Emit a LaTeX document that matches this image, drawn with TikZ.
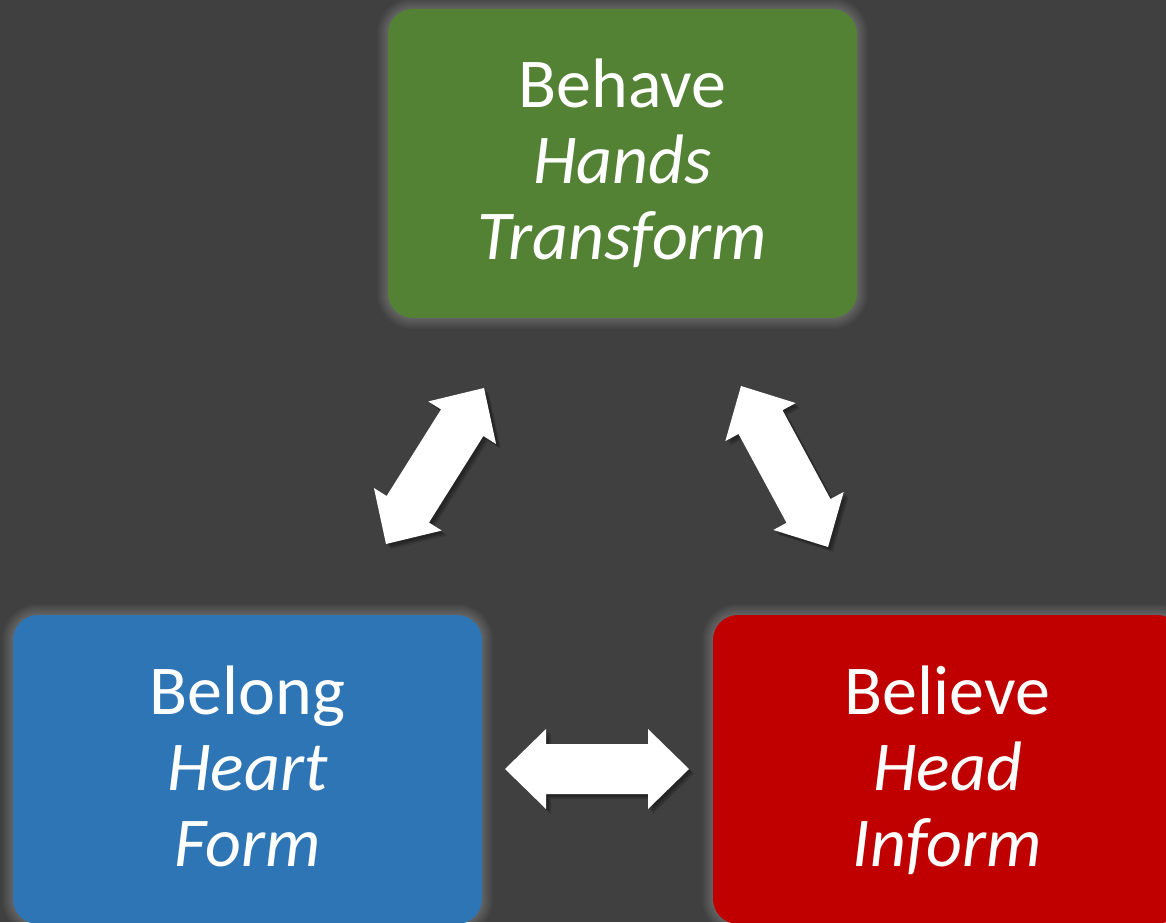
\documentclass[tikz,border=0pt]{standalone}
\usepackage{fontspec}
\setmainfont{Carlito}
\usetikzlibrary{calc,backgrounds}
\definecolor{bg}{HTML}{404040}
\definecolor{boxgreen}{HTML}{548235}
\definecolor{boxblue}{HTML}{2E75B6}
\definecolor{boxred}{HTML}{C00000}
\newcommand\lnstrut{\rule[-16pt]{0pt}{73pt}}
\newcommand\boxline[1]{\lnstrut#1}
\newcommand\arrowpath[2]{(#1)
  -- ($(#1)!41pt!(#2)!40pt!90:(#2)$)
  -- ($(#1)!41pt!(#2)!25pt!90:(#2)$)
  -- ($(#2)!41pt!(#1)!25pt!-90:(#1)$)
  -- ($(#2)!41pt!(#1)!40pt!-90:(#1)$)
  -- (#2)
  -- ($(#2)!41pt!(#1)!40pt!90:(#1)$)
  -- ($(#2)!41pt!(#1)!25pt!90:(#1)$)
  -- ($(#1)!41pt!(#2)!25pt!-90:(#2)$)
  -- ($(#1)!41pt!(#2)!40pt!-90:(#2)$)
  -- cycle}
\newcommand\dblarrow[2]{%
  \foreach \s in {2,3,4,5}{%
    \fill[black, opacity=0.12, transform canvas={xshift=\s pt, yshift=-\s pt}] \arrowpath{#1}{#2};}
  \fill[arrowfill] \arrowpath{#1}{#2};}
\newcommand\glow[1]{%
  \foreach \i in {1,...,11}{%
    \pgfmathsetmacro\rr{25+\i}
    \fill[white, opacity=0.02, rounded corners=\rr pt]
      ($(#1.south west)+(-\i,-\i)$) rectangle ($(#1.north east)+(\i,\i)$);}}
\tikzset{
  box/.style={rounded corners=25pt, minimum width=469pt, minimum height=309pt,
    inner sep=0pt, text=white, align=center,
    font={\fontsize{70}{76}\selectfont\lineskiplimit=-100pt\lineskip=0pt}},
  arrowfill/.style={fill=white}
}
\begin{document}
\begin{tikzpicture}[x=1pt,y=1pt]
\useasboundingbox (0,0) rectangle (1166,922);
\node[box, fill=boxgreen] (behave) at (622.5,758.5)
  {\boxline{Behave}\\\boxline{\textit{Hands}}\\\boxline{\textit{Transform}}};
\node[box, fill=boxblue] (belong) at (247.5,152.5)
  {\boxline{Belong}\\\boxline{\textit{Heart}}\\\boxline{\textit{Form}}};
\node[box, fill=boxred] (believe) at (947.5,152.5)
  {\boxline{Believe}\\\boxline{\textit{Head}}\\\boxline{\textit{Inform}}};
\begin{scope}[on background layer]
  \fill[bg] (0,0) rectangle (1166,922);
  \glow{behave}
  \glow{belong}
  \glow{believe}
\end{scope}
\coordinate (la) at (386,378);
\coordinate (lb) at (484,534);
\coordinate (ra) at (741,536);
\coordinate (rb) at (828,375);
\coordinate (ha) at (505,153);
\coordinate (hb) at (689,153);
\dblarrow{la}{lb}
\dblarrow{ra}{rb}
\dblarrow{ha}{hb}
\end{tikzpicture}
\end{document}
